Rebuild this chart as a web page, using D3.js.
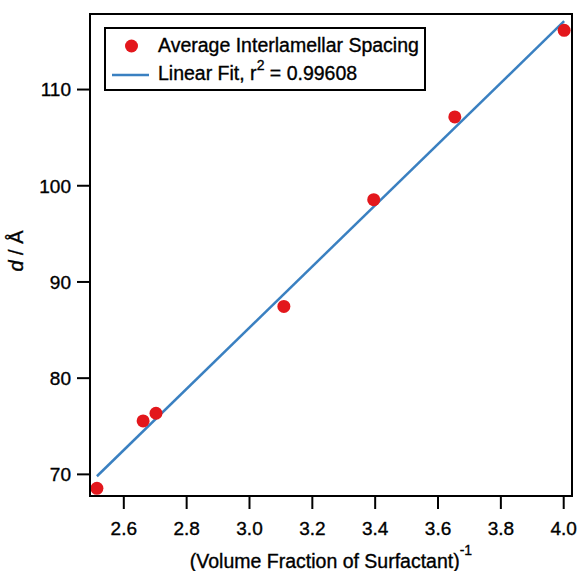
<!DOCTYPE html>
<meta charset="utf-8">
<style>
  body { margin: 0; background: #fff; }
  svg { display: block; font-family: "Liberation Sans", Arial, Helvetica, sans-serif; }
  svg text { stroke: #000; stroke-width: 0.35px; }
  .axis text { font-size: 19px; fill: #000; }
  .axis line { stroke: #000; stroke-width: 2px; }
  .frame { fill: none; stroke: #000; stroke-width: 2px; }
  .fit { fill: none; stroke: #3a80c1; stroke-width: 2.5px; }
  .dot { fill: #e3171c; }
  .legend text { font-size: 19.5px; fill: #000; }
</style>
<svg width="580" height="571"></svg>
<script src="https://d3js.org/d3.v7.min.js"></script>
<script>

  // inverse volume fraction of surfactant vs. average interlamellar spacing (Å)
  var invFraction = [2.516, 2.663, 2.704, 3.111, 3.397, 3.655, 4.003];
  var spacing     = [68.5, 75.5, 76.3, 87.4, 98.5, 107.1, 116.1];

  var xTicks = [2.6, 2.8, 3.0, 3.2, 3.4, 3.6, 3.8, 4.0];
  var yTicks = [70, 80, 90, 100, 110];
  var xDomain = [2.494, 4.028];
  var yDomain = [67.7, 117.8];

  var seriesName = "Average Interlamellar Spacing";
  var fitLabel = "Linear Fit, r";
  var fitR2 = "0.99608";

  var svg = d3.select("svg"),
      margin = {top: 14, right: 8, bottom: 75, left: 90},
      width = +svg.attr("width") - margin.left - margin.right,
      height = +svg.attr("height") - margin.top - margin.bottom,
      g = svg.append("g").attr("transform", "translate(" + margin.left + "," + margin.top + ")");

  var x = d3.scaleLinear().domain(xDomain).range([0, width]);
  var y = d3.scaleLinear().domain(yDomain).range([height, 0]);

  // least squares fit of the points
  var mx = d3.mean(invFraction), my = d3.mean(spacing);
  var sxy = d3.sum(invFraction, function(v, i) { return (v - mx) * (spacing[i] - my); });
  var sxx = d3.sum(invFraction, function(v) { return (v - mx) * (v - mx); });
  var slope = sxy / sxx, intercept = my - slope * mx;
  var fitX = d3.extent(invFraction);

  var xAxis = g.append("g")
      .attr("class", "axis")
      .attr("transform", "translate(0," + height + ")")
      .call(d3.axisBottom(x).tickValues(xTicks).tickFormat(d3.format(".1f")).tickSize(13).tickPadding(13));
  xAxis.select(".domain").remove();

  var yAxis = g.append("g")
      .attr("class", "axis")
      .call(d3.axisLeft(y).tickValues(yTicks).tickSize(13).tickPadding(6));
  yAxis.select(".domain").remove();
  yAxis.selectAll("text").attr("dy", "0.36em");

  g.append("line")
      .attr("class", "fit")
      .attr("x1", x(fitX[0])).attr("y1", y(intercept + slope * fitX[0]))
      .attr("x2", x(fitX[1])).attr("y2", y(intercept + slope * fitX[1]));

  g.selectAll(".dot")
      .data(invFraction)
      .enter().append("circle")
      .attr("class", "dot")
      .attr("cx", function(d) { return x(d); })
      .attr("cy", function(d, i) { return y(spacing[i]); })
      .attr("r", 6.5);

  g.append("rect")
      .attr("class", "frame")
      .attr("width", width)
      .attr("height", height);

  // legend
  var legend = svg.append("g").attr("class", "legend").attr("transform", "translate(105,28)");
  legend.append("rect")
      .attr("class", "frame")
      .attr("width", 320)
      .attr("height", 62);
  legend.append("circle").attr("class", "dot").attr("cx", 26.5).attr("cy", 18).attr("r", 6.5);
  legend.append("line").attr("class", "fit").attr("x1", 7).attr("x2", 44).attr("y1", 47).attr("y2", 47);
  legend.append("text").attr("x", 53).attr("y", 24).text(seriesName);
  var t2 = legend.append("text").attr("x", 53).attr("y", 52);
  t2.append("tspan").text(fitLabel);
  t2.append("tspan").attr("dy", -10).style("font-size", "14px").text("2");
  t2.append("tspan").attr("dy", 10).text(" = " + fitR2);

  // axis titles
  var xt = svg.append("text")
      .attr("x", margin.left + width / 2)
      .attr("y", 568)
      .attr("text-anchor", "middle")
      .style("font-size", "19.5px");
  xt.append("tspan").text("(Volume Fraction of Surfactant)");
  xt.append("tspan").attr("dy", -13).style("font-size", "14px").text("-1");

  var yt = svg.append("text")
      .attr("transform", "translate(23," + 251 + ") rotate(-90)")
      .attr("text-anchor", "middle")
      .style("font-size", "20px");
  yt.append("tspan").style("font-style", "italic").text("d");
  yt.append("tspan").text(" / Å");

</script>
